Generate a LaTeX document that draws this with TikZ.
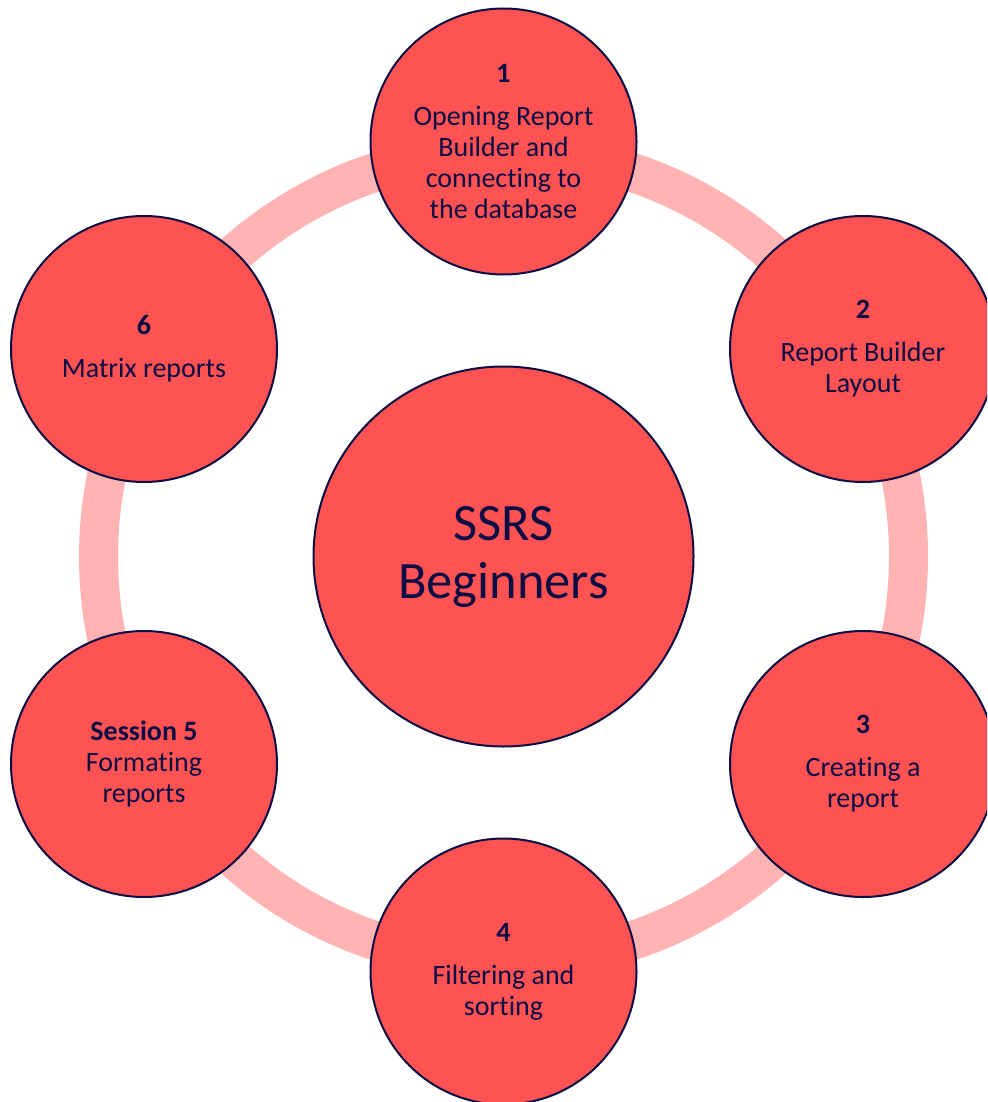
\documentclass[tikz,border=0pt]{standalone}
\usepackage{fontspec}
\setmainfont[RawFeature={-liga}]{Carlito}
\definecolor{circfill}{HTML}{FF5252}
\definecolor{ringcol}{HTML}{FFB3B3}
\definecolor{navy}{HTML}{0B0D45}
\begin{document}
\begin{tikzpicture}[x=1pt,y=-1pt,
  smallc/.style={circle, draw=navy, line width=2pt, fill=circfill,
    minimum size=266pt, inner sep=0pt, text=navy, align=center,
    font=\fontsize{28}{31}\selectfont},
  bigc/.style={circle, draw=navy, line width=2pt, fill=circfill,
    minimum size=380pt, inner sep=0pt, text=navy, align=center,
    font=\fontsize{52.5}{58}\selectfont},
  ring/.style={draw=ringcol, line width=39pt}]
\useasboundingbox (0,0) rectangle (987,1102);
\clip (0,0) rectangle (987,1102);
\coordinate (c) at (503.5,556.5);
\draw[ring] (c) circle[radius=405pt];
\node[bigc] (center) at (c) {SSRS\\Beginners};
\node[smallc] (s1) at (503.5,141.5) {\textbf{1}\\[12pt]Opening Report\\Builder and\\connecting to\\the database};
\node[smallc] (s2) at (863,349) {\textbf{2}\\[12pt]Report Builder\\Layout};
\node[smallc] (s3) at (863,764) {\textbf{3}\\[12pt]Creating a\\report};
\node[smallc] (s4) at (503.5,971.5) {\textbf{4}\\[12pt]Filtering and\\sorting};
\node[smallc] (s5) at (144,764) {\textbf{Session 5}\\Formating\\reports};
\node[smallc] (s6) at (144,349) {\textbf{6}\\[12pt]Matrix reports};
\end{tikzpicture}
\end{document}
